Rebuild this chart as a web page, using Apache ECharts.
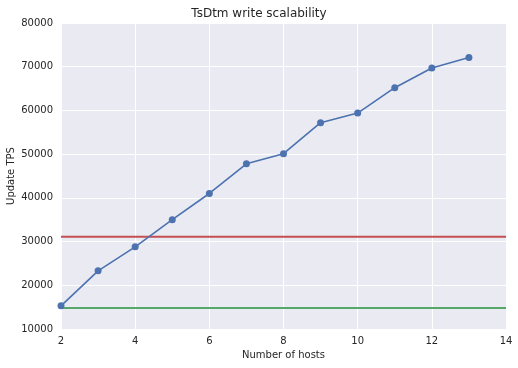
<!DOCTYPE html>
<html><head><meta charset="utf-8">
<script src="https://cdn.jsdelivr.net/npm/echarts@6/dist/echarts.min.js"></script>
<style>html,body{margin:0;padding:0;background:#fff}#c{width:518px;height:368px}</style>
</head><body><div id="c"></div>
<script>
const hosts = [2,3,4,5,6,7,8,9,10,11,12,13];
const tps = [15300,23300,28800,35000,41000,47800,50100,57200,59400,65200,69700,72100];
const redLevel = 31100;
const greenLevel = 14800;
const xRange = [2,14];
const titleText = 'TsDtm write scalability';
const xName = 'Number of hosts';
const yName = 'Update TPS';

const chart = echarts.init(document.getElementById('c'));
const font = 'DejaVu Sans';
chart.setOption({
  animation:false,
  backgroundColor:'#fff',
  title:{text:titleText,left:'center',top:3,textStyle:{fontFamily:font,fontSize:12,fontWeight:'normal',color:'#262626'}},
  grid:{left:61,right:12,top:23,bottom:39,backgroundColor:'#EAEAF2',show:true,borderWidth:0,containLabel:false,outerBoundsMode:'none'},
  xAxis:{type:'value',min:2,max:14,interval:2,name:xName,nameLocation:'middle',nameGap:21,nameMoveOverlap:false,
    nameTextStyle:{fontFamily:font,fontSize:10,color:'#262626'},
    axisLine:{show:false},axisTick:{show:false},
    axisLabel:{fontFamily:font,fontSize:10,color:'#262626',margin:7,formatter:v=>String(v)},
    splitLine:{lineStyle:{color:'#fff',width:1}}},
  yAxis:{type:'value',min:10000,max:80000,interval:10000,name:yName,nameLocation:'middle',nameGap:45,nameMoveOverlap:false,
    nameTextStyle:{fontFamily:font,fontSize:10,color:'#262626'},
    axisLine:{show:false},axisTick:{show:false},
    axisLabel:{fontFamily:font,fontSize:10,color:'#262626',margin:8,formatter:v=>String(v)},
    splitLine:{lineStyle:{color:'#fff',width:1}}},
  series:[
    {type:'line',data:xRange.map(x=>[x,redLevel]),symbol:'none',lineStyle:{color:'#C44E52',width:1.8},z:2},
    {type:'line',data:xRange.map(x=>[x,greenLevel]),symbol:'none',lineStyle:{color:'#55A868',width:1.8},z:2},
    {type:'line',data:hosts.map((h,i)=>[h,tps[i]]),symbol:'circle',symbolSize:7,
      lineStyle:{color:'#4C72B0',width:1.6},itemStyle:{color:'#4C72B0'},z:3}
  ]
});
</script></body></html>
